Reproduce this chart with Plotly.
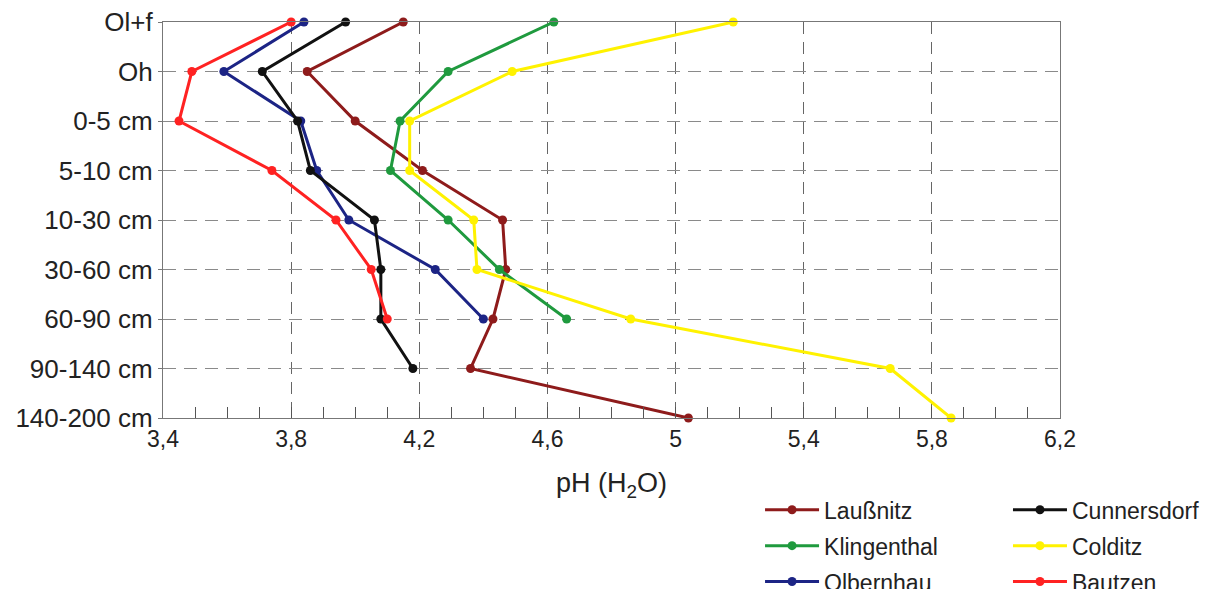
import plotly.graph_objects as go

depths = ["Ol+f", "Oh", "0-5 cm", "5-10 cm", "10-30 cm", "30-60 cm", "60-90 cm", "90-140 cm", "140-200 cm"]

laussnitz   = [4.15, 3.85, 4.00, 4.21, 4.46, 4.47, 4.43, 4.36, 5.04]
klingenthal = [4.62, 4.29, 4.14, 4.11, 4.29, 4.45, 4.66]
olbernhau   = [3.84, 3.59, 3.83, 3.88, 3.98, 4.25, 4.40]
cunnersdorf = [3.97, 3.71, 3.82, 3.86, 4.06, 4.08, 4.08, 4.18]
colditz     = [5.18, 4.49, 4.17, 4.17, 4.37, 4.38, 4.86, 5.67, 5.86]
bautzen     = [3.80, 3.49, 3.45, 3.74, 3.94, 4.05, 4.10]

x_ticks = [3.4, 3.8, 4.2, 4.6, 5.0, 5.4, 5.8, 6.2]
x_ticklabels = ["3,4", "3,8", "4,2", "4,6", "5", "5,4", "5,8", "6,2"]

series = [
    ("Laußnitz", laussnitz, "#8e1b1b", "legend"),
    ("Klingenthal", klingenthal, "#1f9a3e", "legend"),
    ("Olbernhau", olbernhau, "#1c2485", "legend"),
    ("Cunnersdorf", cunnersdorf, "#111111", "legend2"),
    ("Colditz", colditz, "#fff200", "legend2"),
    ("Bautzen", bautzen, "#ff2222", "legend2"),
]

fig = go.Figure()
for name, vals, color, leg in series:
    fig.add_trace(go.Scatter(
        x=vals, y=list(range(len(vals))), name=name, mode="lines+markers",
        line=dict(color=color, width=3), marker=dict(color=color, size=9),
        cliponaxis=False, legend=leg, legendgroup=name,
    ))

font_main = "Liberation Sans, Arial, sans-serif"

legend_common = dict(xanchor="left", yanchor="top",
                     font=dict(size=23, color="#222"), itemwidth=54,
                     tracegroupgap=3, bgcolor="rgba(0,0,0,0)")

fig.update_layout(
    width=1216, height=589,
    margin=dict(l=155, r=164, t=14, b=179, autoexpand=False),
    paper_bgcolor="white", plot_bgcolor="white",
    font=dict(family=font_main, color="#222222"),
    showlegend=True,
    legend=dict(x=0.6656, y=-0.1775, **legend_common),
    legend2=dict(x=0.942, y=-0.1775, **legend_common),
    xaxis=dict(
        range=[3.4, 6.2], tickvals=x_ticks, ticktext=x_ticklabels,
        showgrid=True, gridcolor="#666666", griddash="12px,8px", gridwidth=1,
        showline=True, linecolor="#777777", linewidth=1.2, mirror=True,
        ticks="inside", ticklen=11, tickcolor="#555555",
        minor=dict(dtick=0.1, tick0=3.4, ticks="inside", ticklen=11, tickcolor="#555555", showgrid=False),
        tickfont=dict(family=font_main, size=23, color="#222"),
        ticklabeloverflow="allow",
        title=dict(text="pH (H<sub>2</sub>O)", font=dict(family=font_main, size=27, color="#222"), standoff=22),
        zeroline=False, automargin=False,
    ),
    yaxis=dict(
        range=[8, 0], tickvals=list(range(len(depths))), ticktext=depths,
        showgrid=True, gridcolor="#8a8a8a", griddash="13px,8px", gridwidth=1,
        showline=True, linecolor="#777777", linewidth=1.2, mirror=True,
        ticks="outside", ticklen=4, tickcolor="#777777",
        tickfont=dict(family=font_main, size=26, color="#222"),
        ticklabeloverflow="allow",
        zeroline=False, automargin=False,
    ),
)

fig.write_html("out.html")
